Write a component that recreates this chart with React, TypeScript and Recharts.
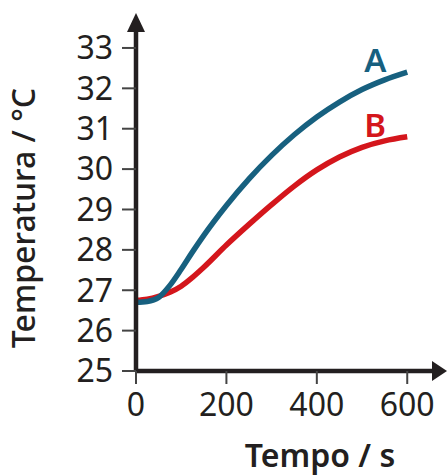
import { LineChart, Line, XAxis, YAxis, ReferenceDot } from 'recharts';

const times = [0, 25, 50, 75, 100, 125, 150, 200, 250, 300, 350, 400, 450, 500, 550, 600];
const tempA = [26.7, 26.72, 26.82, 27.12, 27.52, 27.95, 28.36, 29.1, 29.76, 30.34, 30.85, 31.29, 31.66, 31.97, 32.21, 32.4];
const tempB = [26.75, 26.78, 26.85, 26.95, 27.1, 27.32, 27.57, 28.12, 28.63, 29.12, 29.58, 29.98, 30.3, 30.54, 30.7, 30.8];
const xTicks = [0, 200, 400, 600];
const yTicks = [25, 26, 27, 28, 29, 30, 31, 32, 33];

const chartData = times.map((t, i) => ({ t, A: tempA[i], B: tempB[i] }));

const FONT = '"Noto Sans", sans-serif';
const INK = '#231f20';
const BLUE = '#17607f';
const RED = '#d4161c';
const X_MAX = 657;
const Y_MAX = 33.42;

const endLabel = (name: string, color: string) => (props: any) => {
    if (props.index !== times.length - 1) return null;
    return (
        <text x={props.x - 32} y={props.y} textAnchor="middle" fill={color}
            fontFamily={FONT} fontSize={33} fontWeight={600}>
            {name}
        </text>
    );
};

export default function App() {
    return (
        <div style={{ position: 'absolute', left: 0, top: 0, background: '#fff' }}>
            <LineChart width={447} height={475} data={chartData}
                margin={{ top: 31, right: 14, bottom: 0, left: 0 }}>
                <XAxis
                    dataKey="t"
                    type="number"
                    domain={[0, X_MAX]}
                    ticks={xTicks}
                    interval={0}
                    height={104}
                    axisLine={{ stroke: INK, strokeWidth: 4.5 }}
                    tickLine={{ stroke: '#444', strokeWidth: 2 }}
                    tickSize={13}
                    tickMargin={9}
                    tick={{ fill: INK, fontSize: 32, fontFamily: FONT }}
                    label={(p: any) => (
                        <text x={p.viewBox.x + 184} y={p.viewBox.y + 96} textAnchor="middle"
                            fill={INK} fontFamily={FONT} fontSize={32} fontWeight={600}>
                            Tempo / s
                        </text>
                    )}
                />
                <YAxis
                    type="number"
                    domain={[25, Y_MAX]}
                    ticks={yTicks}
                    interval={0}
                    width={136}
                    axisLine={{ stroke: INK, strokeWidth: 4.5 }}
                    tickLine={{ stroke: '#444', strokeWidth: 2 }}
                    tickSize={14}
                    tickMargin={9}
                    tick={{ fill: INK, fontSize: 32, fontFamily: FONT }}
                    label={(p: any) => {
                        const x = p.viewBox.x + 35;
                        const y = p.viewBox.y + p.viewBox.height / 2 + 17;
                        return (
                            <text x={x} y={y} transform={`rotate(-90, ${x}, ${y})`} textAnchor="middle"
                                fill={INK} fontFamily={FONT} fontSize={32} fontWeight={500}>
                                Temperatura / °C
                            </text>
                        );
                    }}
                />
                <Line type="monotone" dataKey="B" stroke={RED} strokeWidth={5.5} dot={false}
                    isAnimationActive={false} label={endLabel('B', RED)} />
                <Line type="monotone" dataKey="A" stroke={BLUE} strokeWidth={5.5} dot={false}
                    isAnimationActive={false} label={endLabel('A', BLUE)} />
                <ReferenceDot x={0} y={Y_MAX} ifOverflow="visible"
                    shape={(p: any) => (
                        <polygon points={`${p.cx - 9},${p.cy + 1} ${p.cx + 9},${p.cy + 1} ${p.cx},${p.cy - 18}`} fill={INK} />
                    )} />
                <ReferenceDot x={X_MAX} y={25} ifOverflow="visible"
                    shape={(p: any) => (
                        <polygon points={`${p.cx - 1},${p.cy - 10} ${p.cx - 1},${p.cy + 10} ${p.cx + 14},${p.cy}`} fill={INK} />
                    )} />
            </LineChart>
        </div>
    );
}
